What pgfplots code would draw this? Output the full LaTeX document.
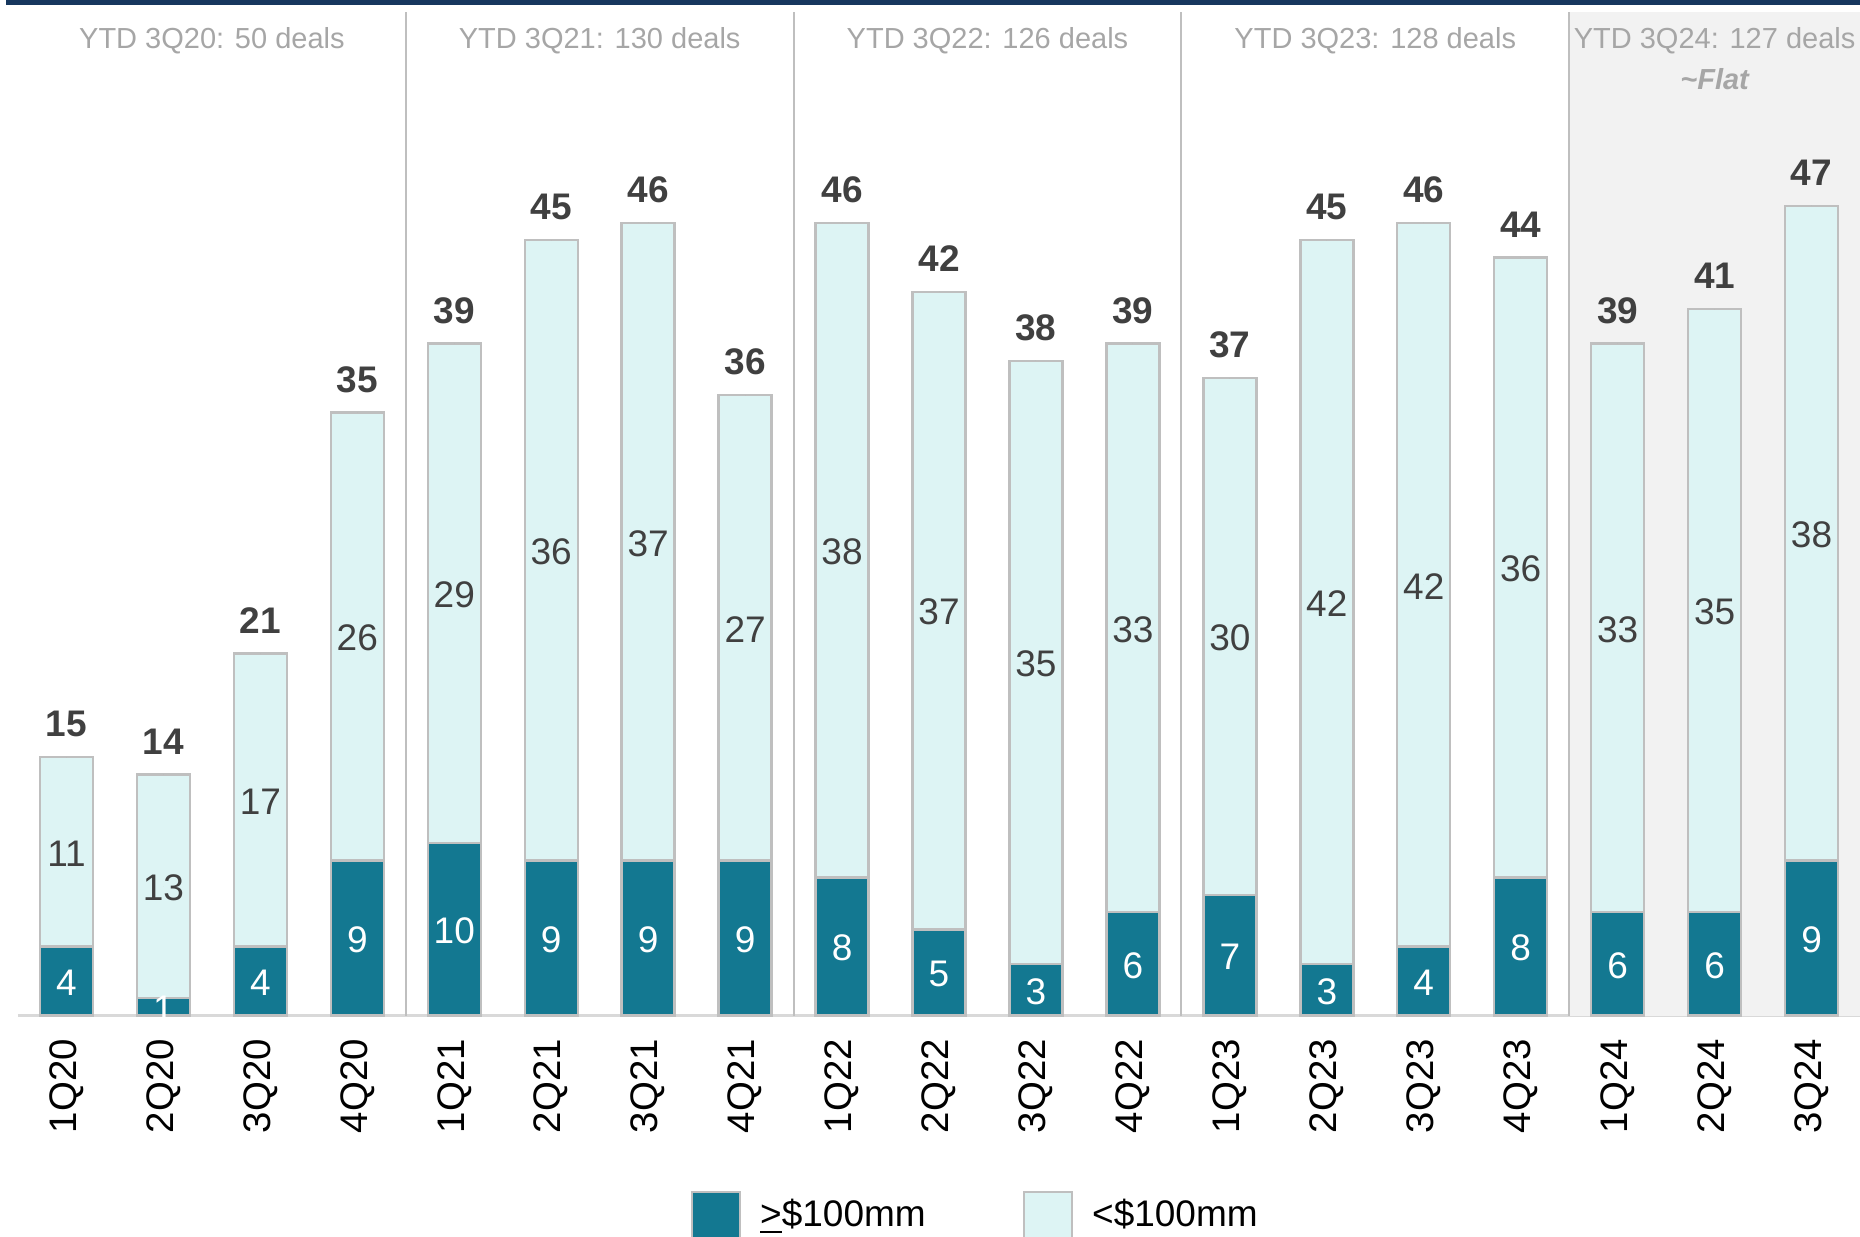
\documentclass[border=0pt]{standalone}
\usepackage{fontspec}
\setmainfont{Liberation Sans}
\usepackage{pgfplots}
\usepackage{pgfplotstable}
\pgfplotsset{compat=1.18}

\definecolor{tealc}{RGB}{19,120,145}
\definecolor{lightc}{RGB}{221,244,244}
\definecolor{borderc}{RGB}{191,191,191}
\definecolor{headc}{RGB}{166,166,166}
\definecolor{numc}{RGB}{64,64,64}
\definecolor{shadec}{RGB}{242,242,242}
\definecolor{navyc}{RGB}{23,55,94}
\definecolor{basec}{RGB}{217,217,217}

\pgfplotstableread{
x dark light total
0 4 11 15
1 1 13 14
2 4 17 21
3 9 26 35
4 10 29 39
5 9 36 45
6 9 37 46
7 9 27 36
8 8 38 46
9 5 37 42
10 3 35 38
11 6 33 39
12 7 30 37
13 3 42 45
14 4 42 46
15 8 36 44
16 6 33 39
17 6 35 41
18 9 38 47
}\data

\begin{document}
\begin{tikzpicture}
\useasboundingbox (-4.5pt,-55.125pt) rectangle (460.5pt,253.875pt);
\begin{axis}[
  at={(0,0)}, anchor=south west,
  width=460.5pt, height=253.875pt, scale only axis,
  xmin=-0.5, xmax=18.5, ymin=0, ymax=58.94,
  clip=false,
  axis x line*=bottom, axis y line=none,
  x axis line style={draw=basec, line width=0.75pt},
  ytick=\empty,
  xtick={0,...,18},
  xticklabels={1Q20,2Q20,3Q20,4Q20,1Q21,2Q21,3Q21,4Q21,1Q22,2Q22,3Q22,4Q22,1Q23,2Q23,3Q23,4Q23,1Q24,2Q24,3Q24},
  major tick length=0pt,
  xticklabel style={rotate=90, anchor=east, xshift=-2.4pt, font=\fontsize{9.6}{11}\selectfont, text=black},
  legend image code/.code={\draw[#1] (0pt,-6pt) rectangle (12pt,6pt);},
  legend cell align=left,
  legend columns=2,
  legend style={at={(rel axis cs:0.3648,-0.1974)}, anchor=west, draw=none, fill=none,
    inner sep=0pt, font=\fontsize{9.25}{11}\selectfont,
    /tikz/every even column/.append style={column sep=19.5pt},
    nodes={inner xsep=4.75pt, inner ysep=0pt}},
]
\fill[shadec] (axis cs:15.5,0) rectangle (axis cs:18.5,58.24);
\draw[borderc, line width=0.5pt] (axis cs:3.5,0) -- (axis cs:3.5,58.24);
\draw[borderc, line width=0.5pt] (axis cs:7.5,0) -- (axis cs:7.5,58.24);
\draw[borderc, line width=0.5pt] (axis cs:11.5,0) -- (axis cs:11.5,58.24);
\draw[borderc, line width=0.5pt] (axis cs:15.5,0) -- (axis cs:15.5,58.24);
\fill[navyc] (axis cs:-0.62,58.94) rectangle (axis cs:18.5,58.65);

\addplot[ybar, bar width=13.25pt, bar shift=0pt, fill=lightc, draw=borderc, line width=0.6pt, forget plot]
  table[x=x, y=total]{\data};
\addplot[ybar, bar width=13.25pt, bar shift=0pt, fill=tealc, draw=borderc, line width=0.6pt, forget plot]
  table[x=x, y=dark]{\data};

\addplot[only marks, mark=*, mark size=0pt, mark options={draw=none, fill=none},
  point meta=explicit symbolic, nodes near coords,
  nodes near coords style={anchor=center, yshift=-0.4pt, text=white, font=\fontsize{9.25}{11}\selectfont},
  forget plot]
  table[x=x, y expr=\thisrow{dark}/2, meta=dark]{\data};
\addplot[only marks, mark=*, mark size=0pt, mark options={draw=none, fill=none},
  point meta=explicit symbolic, nodes near coords,
  nodes near coords style={anchor=center, yshift=-0.4pt, text=numc, font=\fontsize{9.25}{11}\selectfont},
  forget plot]
  table[x=x, y expr=(\thisrow{dark}+\thisrow{total})/2, meta=light]{\data};
\addplot[only marks, mark=*, mark size=0pt, mark options={draw=none, fill=none},
  point meta=explicit symbolic, nodes near coords,
  nodes near coords style={anchor=center, yshift=8.25pt, text=numc, font=\bfseries\fontsize{9.25}{11}\selectfont},
  forget plot]
  table[x=x, y=total, meta=total]{\data};

\node[text=headc, font=\fontsize{7.25}{9}\selectfont] at (axis cs:1.5,56.6) {YTD 3Q20: 50 deals};
\node[text=headc, font=\fontsize{7.25}{9}\selectfont] at (axis cs:5.5,56.6) {YTD 3Q21: 130 deals};
\node[text=headc, font=\fontsize{7.25}{9}\selectfont] at (axis cs:9.5,56.6) {YTD 3Q22: 126 deals};
\node[text=headc, font=\fontsize{7.25}{9}\selectfont] at (axis cs:13.5,56.6) {YTD 3Q23: 128 deals};
\node[text=headc, font=\fontsize{7.25}{9}\selectfont] at (axis cs:17,56.6) {YTD 3Q24: 127 deals};
\node[text=headc, font=\bfseries\itshape\fontsize{7.25}{9}\selectfont] at (axis cs:17,54.35) {\textasciitilde Flat};

\addlegendimage{fill=tealc, draw=borderc, line width=0.6pt}
\addlegendentry{\underline{>}\$100mm}
\addlegendimage{fill=lightc, draw=borderc, line width=0.6pt}
\addlegendentry{<\$100mm}
\end{axis}
\end{tikzpicture}
\end{document}
